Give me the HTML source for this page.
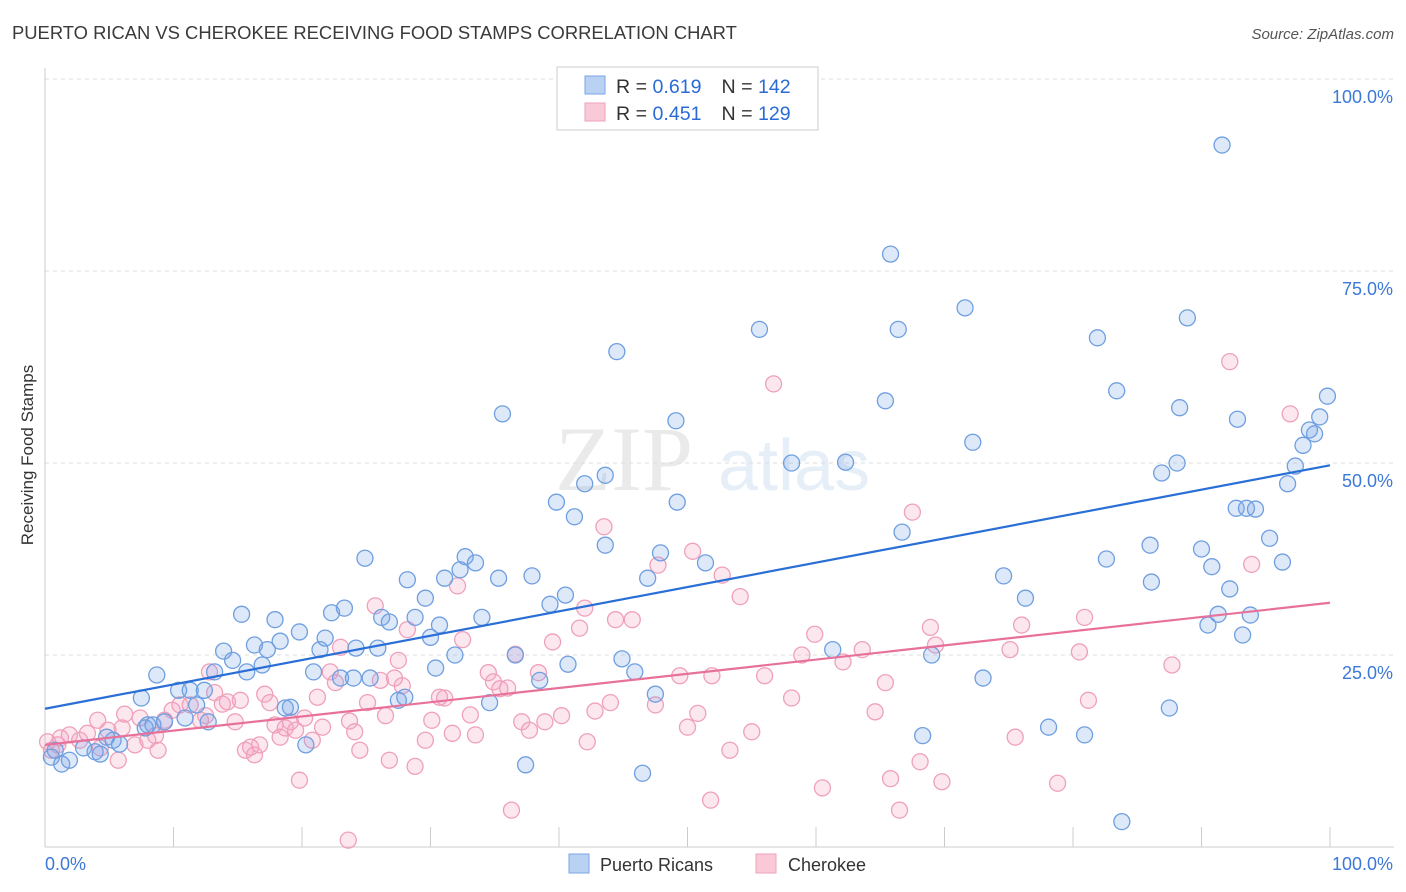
<!DOCTYPE html>
<html><head><meta charset="utf-8"><style>
body{margin:0;background:#fff;font-family:"Liberation Sans",sans-serif;}
svg{display:block}
</style></head><body>
<svg id="c" width="1406" height="892" xmlns="http://www.w3.org/2000/svg">
<text x="12" y="39" font-size="18.4" fill="#3a3a3a">PUERTO RICAN VS CHEROKEE RECEIVING FOOD STAMPS CORRELATION CHART</text>
<text x="1394" y="39" font-size="15" fill="#555" font-style="italic" text-anchor="end">Source: ZipAtlas.com</text>
<text transform="translate(33,455) rotate(-90)" font-size="17" fill="#333" text-anchor="middle">Receiving Food Stamps</text>
<g opacity="0.13">
<text x="555" y="490" font-size="92" font-family="Liberation Serif,serif" fill="#666">ZIP</text>
<text x="718" y="490" font-size="72" fill="#4a7fd0">atlas</text>
</g>
<g id="grid"></g><g id="pts"></g><g id="trend"></g>
<g>
<rect x="557" y="67" width="261" height="63" fill="#fff" stroke="#ccc"/>
<rect x="585" y="76" width="20" height="18" fill="#b9d2f3" stroke="#7aa6e6"/>
<rect x="585" y="103" width="20" height="18" fill="#f9c9d8" stroke="#eea2ba"/>
<text x="616" y="93" font-size="19.6" fill="#333">R = <tspan fill="#2a6bd6">0.619</tspan><tspan dx="20">N = </tspan><tspan fill="#2a6bd6">142</tspan></text>
<text x="616" y="120" font-size="19.6" fill="#333">R = <tspan fill="#2a6bd6">0.451</tspan><tspan dx="20">N = </tspan><tspan fill="#2a6bd6">129</tspan></text>
</g>
<g>
<rect x="569" y="854" width="20" height="19" fill="#b9d2f3" stroke="#7aa6e6"/>
<text x="600" y="871" font-size="18" fill="#333">Puerto Ricans</text>
<rect x="756" y="854" width="20" height="19" fill="#f9c9d8" stroke="#eea2ba"/>
<text x="788" y="871" font-size="18" fill="#333">Cherokee</text>
</g>
</svg>
<script>
const yTicks=[25,50,75,100];
const yTickLabels=["25.0%","50.0%","75.0%","100.0%"];
const xTicks=[0,10,20,30,40,50,60,70,80,90,100];
const blueX=[0.5,1.3,1.9,0.8,3.9,4.3,3.0,5.3,5.8,4.8,7.8,8.0,8.4,9.3,7.5,8.7,10.4,11.3,12.4,11.8,10.9,12.7,13.2,13.9,14.6,15.3,15.7,16.3,16.9,17.3,17.9,18.3,19.1,18.7,19.8,20.3,20.9,21.4,21.8,22.3,23.3,23.0,24.0,24.2,24.9,25.3,25.9,26.2,26.8,27.5,28.0,28.2,28.8,29.6,30.0,30.4,30.7,31.1,31.9,32.3,32.7,33.5,34.0,34.6,35.3,35.6,36.6,37.4,37.9,38.5,39.3,39.8,40.5,40.7,41.2,42.0,43.6,43.6,44.5,44.9,45.9,46.5,46.9,47.5,47.9,49.1,49.2,51.4,55.6,58.1,61.3,62.3,65.4,65.8,66.4,66.7,69.0,68.3,71.6,72.2,73.0,74.6,76.3,78.1,80.9,81.9,82.6,83.4,83.8,86.0,86.1,86.9,87.5,88.1,88.3,88.9,90.0,90.5,90.8,91.3,91.6,92.2,92.8,93.2,93.8,92.7,93.5,94.2,95.3,96.3,96.7,97.3,97.9,98.4,98.8,99.2,99.8];
const blueY=[11.7,10.8,11.3,12.6,12.4,12.1,12.9,13.9,13.4,14.3,15.5,15.9,15.9,16.3,19.4,22.4,20.4,20.4,20.4,18.5,16.8,16.3,22.8,25.5,24.3,30.3,22.8,26.3,23.7,25.7,29.6,26.8,18.2,18.1,28.0,13.3,22.8,25.7,27.2,30.5,31.1,22.0,22.0,25.9,37.6,22.0,25.9,29.9,29.3,19.1,19.5,34.8,29.9,32.4,27.3,23.3,28.9,35.0,25.0,36.1,37.8,37.0,29.9,18.8,35.0,56.4,25.0,10.7,35.3,21.7,31.6,44.9,32.8,23.8,43.0,47.3,39.3,48.4,64.5,24.5,22.8,9.6,35.0,19.9,38.3,55.5,44.9,37.0,67.4,50.0,25.7,50.1,58.1,77.2,67.4,41.0,25.0,14.5,70.2,52.7,22.0,35.3,32.4,15.6,14.6,66.3,37.5,59.4,3.3,39.3,34.5,48.7,18.1,50.0,57.2,68.9,38.8,28.9,36.5,30.3,91.4,33.6,55.7,27.6,30.2,44.1,44.1,44.0,40.2,37.1,47.3,49.6,52.3,54.3,53.8,56.0,58.7];
const pinkX=[0.2,0.5,1.0,1.2,1.9,2.7,3.3,4.1,4.3,4.9,5.7,6.0,6.2,7.0,7.4,8.0,8.6,8.8,9.3,9.9,10.5,11.3,12.1,12.5,12.8,13.2,13.8,14.2,14.8,15.2,15.6,16.0,16.3,16.7,17.1,17.5,17.9,18.3,18.7,19.1,19.5,19.8,20.2,20.8,21.2,21.6,22.2,22.6,23.0,23.6,23.7,24.1,24.5,25.1,25.7,26.1,26.5,26.8,27.2,27.5,27.8,28.2,28.8,29.6,30.1,30.7,31.1,31.7,32.1,32.5,33.1,33.5,34.5,34.9,35.4,36.0,36.3,36.6,37.1,37.7,38.4,38.9,39.5,40.2,41.6,42.0,42.2,42.8,43.5,44.0,44.4,45.7,47.5,47.7,49.4,50.0,50.4,50.8,51.8,51.9,52.7,53.3,54.1,55.0,56.0,56.7,58.1,58.9,59.9,60.5,62.1,63.6,64.6,65.4,65.8,66.5,67.5,68.1,68.9,69.3,69.8,75.1,75.5,76.0,78.8,80.5,80.9,81.2,87.7,92.2,93.9,96.9];
const pinkY=[13.7,12.6,13.3,14.2,14.6,13.9,14.8,16.5,12.9,15.2,11.3,15.5,17.3,13.3,16.8,13.9,14.5,12.6,16.5,17.8,18.5,18.5,16.5,17.1,22.8,20.1,18.6,18.9,16.3,19.1,12.6,13.0,12.0,13.3,19.9,18.8,15.9,14.3,15.5,16.3,15.2,8.7,16.8,13.9,19.5,15.6,22.8,21.4,26.0,0.9,16.4,15.0,12.6,18.8,31.4,21.7,17.1,11.3,22.0,24.3,21.0,28.3,10.5,13.9,16.5,19.5,19.4,14.8,34.0,27.0,17.2,14.6,22.7,21.5,20.6,20.7,4.8,25.1,16.3,15.2,22.7,16.3,26.7,17.1,28.5,31.1,13.7,17.7,41.7,18.8,29.6,29.6,18.5,36.7,22.3,15.6,38.5,17.4,6.1,22.3,35.4,12.6,32.6,15.0,22.3,60.3,19.4,25.0,27.7,7.7,24.1,25.7,17.6,21.4,8.9,4.8,43.6,11.1,28.6,26.3,8.5,25.7,14.3,28.9,8.3,25.4,29.9,19.1,23.7,63.2,36.8,56.4];
const blueTrend=[18.0,49.7];
const pinkTrend=[13.3,31.8];
const NS="http://www.w3.org/2000/svg";
const X=v=>45+v*12.85, Y=v=>847-v*7.68;
function mk(t,a,p){const e=document.createElementNS(NS,t);for(const k in a)e.setAttribute(k,a[k]);p.appendChild(e);return e;}
const g=document.getElementById('grid');
yTicks.forEach((t,i)=>{
 const l=mk('line',{x1:45,x2:1394,y1:Y(t),y2:Y(t),stroke:'#ddd','stroke-dasharray':'4,4'},g);
 
 
 const tx=mk('text',{x:1393,y:Y(t)+24,'font-size':18,fill:'#3b78d8','text-anchor':'end'},g);tx.textContent=yTickLabels[i];
 
 
});
const ax=mk('line',{x1:45,x2:1394,y1:847,y2:847,stroke:'#ccc'},g);


const ay=mk('line',{x1:45,x2:45,y1:68,y2:847,stroke:'#ccc'},g);


xTicks.forEach(t=>{const l=mk('line',{x1:X(t),x2:X(t),y1:827,y2:847,stroke:'#ccc'},g);
 
 });
const x0=mk('text',{x:45,y:870,'font-size':18,fill:'#3b78d8'},g);x0.textContent='0.0%';


const x1=mk('text',{x:1393,y:870,'font-size':18,fill:'#3b78d8','text-anchor':'end'},g);x1.textContent='100.0%';


const p=document.getElementById('pts');
pinkX.forEach((v,i)=>{const c=mk('circle',{cx:X(v),cy:Y(pinkY[i]),r:8,fill:'rgba(244,160,190,0.25)',stroke:'#efa0bb','stroke-width':1.3},p);
 
 });
blueX.forEach((v,i)=>{const c=mk('circle',{cx:X(v),cy:Y(blueY[i]),r:8,fill:'rgba(120,165,230,0.25)',stroke:'#6f9fe0','stroke-width':1.3},p);
 
 });
const tr=document.getElementById('trend');
const b=mk('line',{x1:X(0),y1:Y(blueTrend[0]),x2:X(100),y2:Y(blueTrend[1]),stroke:'#2a6fd6','stroke-width':2.2},tr);


const pk=mk('line',{x1:X(0),y1:Y(pinkTrend[0]),x2:X(100),y2:Y(pinkTrend[1]),stroke:'#e8719a','stroke-width':2.2},tr);


</script>
</body></html>
